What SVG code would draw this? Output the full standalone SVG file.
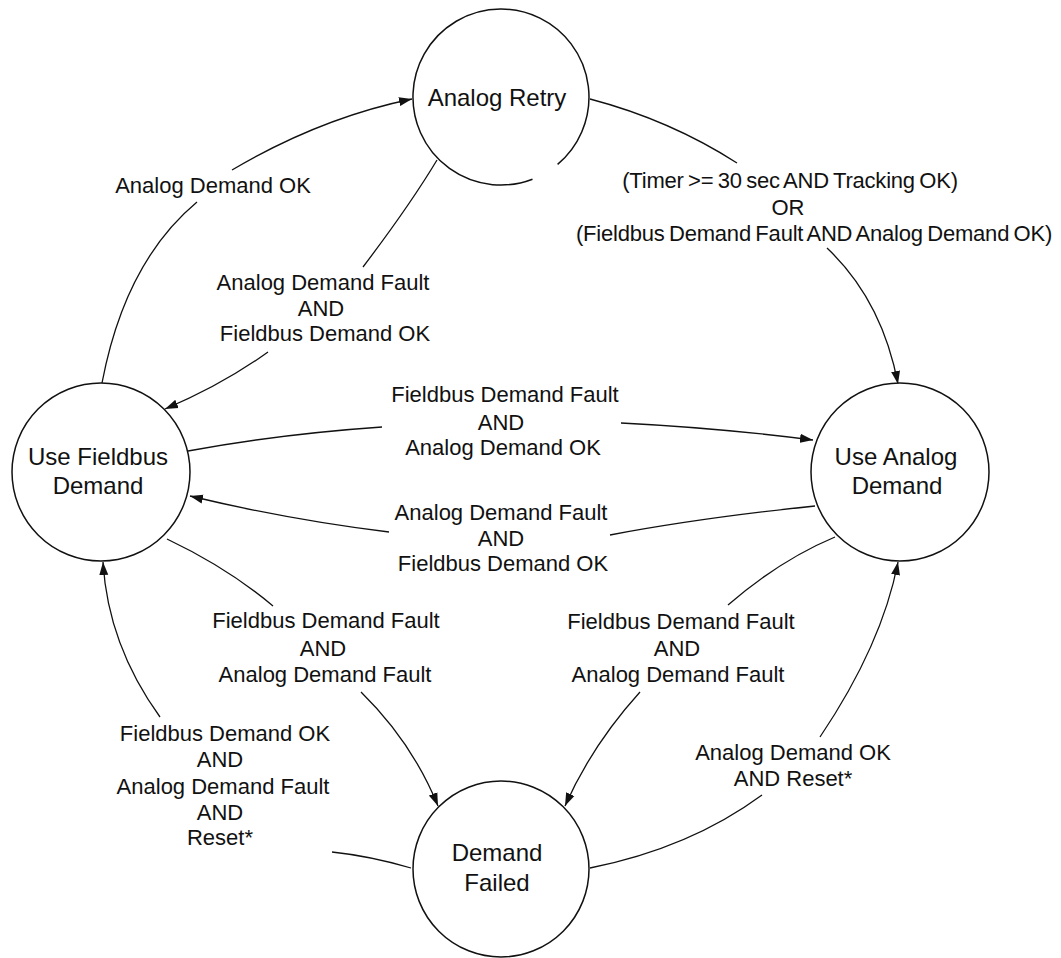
<svg xmlns="http://www.w3.org/2000/svg" width="1061" height="958" viewBox="0 0 1061 958">
<style>
.node{fill:#fff;stroke:#111;stroke-width:1.5}
.edge{fill:none;stroke:#111;stroke-width:1.3}
.arr{marker-end:url(#ah)}
.nl{font-family:"Liberation Sans",Arial,sans-serif;font-size:24px;fill:#111;text-anchor:middle}
.el{font-family:"Liberation Sans",Arial,sans-serif;font-size:22px;fill:#111;text-anchor:middle}
.tight{word-spacing:-1.5px;letter-spacing:-0.2px}
</style>
<defs>
<marker id="ah" markerUnits="userSpaceOnUse" markerWidth="14" markerHeight="10" refX="13" refY="5" orient="auto">
<path d="M0,0.5 L13,5 L0,9.5 z" fill="#111"/>
</marker>
</defs>
<rect width="1061" height="958" fill="#fff"/>

<g id="connectors">
<path class="edge" d="M102,383 Q125,262 197,202"/>
<path class="edge arr" d="M232,170 Q320,118 412,99"/>
<path class="edge" d="M437,160 Q410,205 363,267"/>
<path class="edge arr" d="M268,352 Q222,385 165,409"/>
<path class="edge" d="M590,99 Q670,120 737,163"/>
<path class="edge arr" d="M827,248 Q882,300 898,384"/>
<path class="edge" d="M188,451 Q280,434 382,427"/>
<path class="edge arr" d="M621,423 Q720,428 813,440"/>
<path class="edge" d="M815,506 Q700,518 610,535"/>
<path class="edge arr" d="M389,532 Q290,520 190,496"/>
<path class="edge" d="M167,539 Q228,568 273,606"/>
<path class="edge arr" d="M361,692 Q412,742 438,806"/>
<path class="edge" d="M835,537 Q780,560 728,605"/>
<path class="edge arr" d="M640,692 Q592,745 565,806"/>
<path class="edge" d="M590,868 Q690,848 762,795"/>
<path class="edge arr" d="M820,737 Q882,645 898,562"/>
<path class="edge" d="M411,868 Q370,856 332,852"/>
<path class="edge arr" d="M160,717 Q108,645 103,562"/>
</g>

<g id="edge-labels">
<text class="el" x="213" y="193">Analog Demand OK</text>
<text class="el" x="323" y="290">Analog Demand Fault</text>
<text class="el" x="321" y="316">AND</text>
<text class="el" x="325" y="341">Fieldbus Demand OK</text>
<text class="el tight" x="790" y="188">(Timer &gt;= 30 sec AND Tracking OK)</text>
<text class="el" x="788" y="215">OR</text>
<text class="el tight" x="814" y="241">(Fieldbus Demand Fault AND Analog Demand OK)</text>
<text class="el" x="505" y="402">Fieldbus Demand Fault</text>
<text class="el" x="501" y="430">AND</text>
<text class="el" x="503" y="455">Analog Demand OK</text>
<text class="el" x="501" y="520">Analog Demand Fault</text>
<text class="el" x="501" y="546">AND</text>
<text class="el" x="503" y="571">Fieldbus Demand OK</text>
<text class="el" x="326" y="628">Fieldbus Demand Fault</text>
<text class="el" x="323" y="656">AND</text>
<text class="el" x="325" y="682">Analog Demand Fault</text>
<text class="el" x="681" y="629">Fieldbus Demand Fault</text>
<text class="el" x="677" y="656">AND</text>
<text class="el" x="678" y="682">Analog Demand Fault</text>
<text class="el" x="793" y="760">Analog Demand OK</text>
<text class="el" x="793" y="786">AND Reset*</text>
<text class="el" x="225" y="741">Fieldbus Demand OK</text>
<text class="el" x="220" y="767">AND</text>
<text class="el" x="223" y="794">Analog Demand Fault</text>
<text class="el" x="220" y="820">AND</text>
<text class="el" x="220" y="845">Reset*</text>
</g>

<g id="analog-retry">
<path class="node" d="M557.6,164.4 A88,88 0 1 0 532.5,179.2"/>
<text class="nl" x="497" y="106">Analog Retry</text>
</g>
<g id="use-fieldbus-demand">
<circle class="node" cx="101" cy="472" r="89"/>
<text class="nl" x="98" y="465">Use Fieldbus</text>
<text class="nl" x="98" y="494">Demand</text>
</g>
<g id="use-analog-demand">
<circle class="node" cx="900" cy="472" r="89"/>
<text class="nl" x="896" y="465">Use Analog</text>
<text class="nl" x="897" y="494">Demand</text>
</g>
<g id="demand-failed">
<circle class="node" cx="501" cy="869" r="88"/>
<text class="nl" x="497" y="861">Demand</text>
<text class="nl" x="497" y="891">Failed</text>
</g>
</svg>
